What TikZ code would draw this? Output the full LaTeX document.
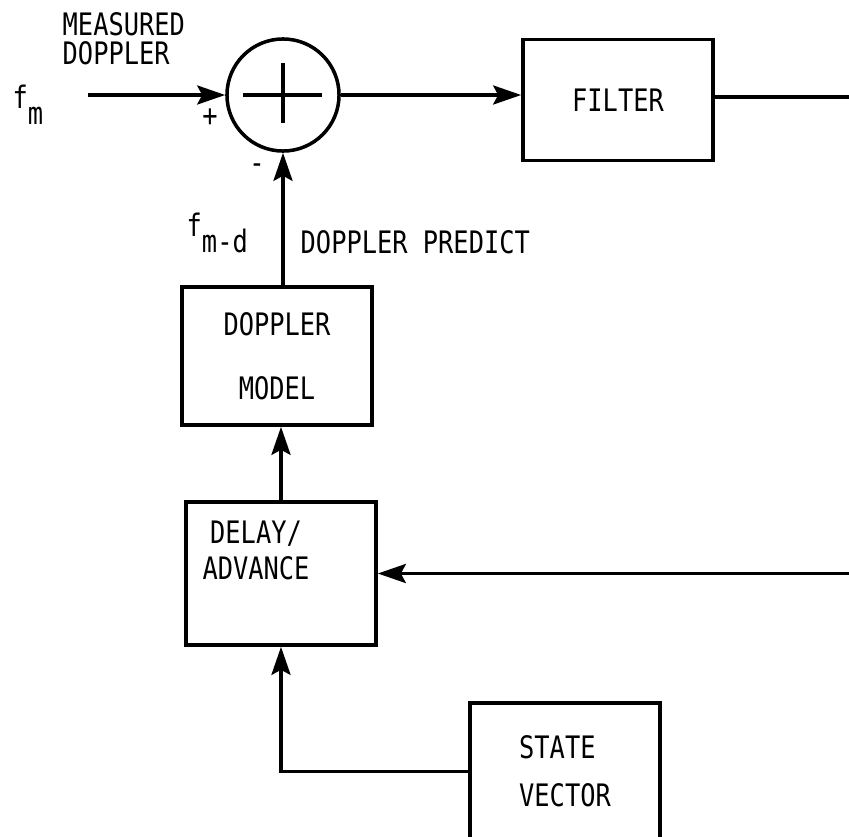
\documentclass[tikz,border=0pt]{standalone}
\usepackage{fontspec}
\setmonofont[FakeStretch=0.82]{DejaVu Sans Mono}
\usepackage{tikz}
\usetikzlibrary{arrows.meta}

\begin{document}
\begin{tikzpicture}[x=0.01cm,y=-0.01cm,
  lbl/.style={font=\ttfamily\fontsize{8.8}{10.2}\selectfont,inner sep=0pt},
  blk/.style={lbl,draw,line width=1pt,minimum width=1.9cm},
  sig/.style={line width=1pt,-{Stealth[length=2.8mm,width=1.9mm,inset=0.5mm]}}]
\useasboundingbox (0,0) rectangle (849,836);
\clip (0,0) rectangle (849,836);
% summing junction
\node[draw,line width=1pt,circle,minimum size=1.12cm,inner sep=0pt] (sum) at (283,95) {};
\draw [line width=1pt] (243,95)--(322,95);
\draw [line width=1pt] (283,63)--(283,123);
\node[blk,minimum height=1.21cm] (filter) at (618,100) {FILTER};
\node[blk,minimum height=1.38cm,align=center] (model) at (277,356) {DOPPLER\\[8pt]MODEL};
\node[blk,minimum height=1.43cm] (delay) at (281,573.5) {};
\node[lbl,align=center] (delaytxt) at (256,550) {DELAY/\\ADVANCE};
\node[blk,minimum height=1.37cm,align=left] (state) at (565,771.5) {STATE\\[3.4pt]VECTOR};
\coordinate (fmin) at (88,95);
\coordinate (out) at (849,97);
\coordinate (fb) at (849,573.5);
\draw [sig] (fmin)--(sum.west);
\draw [sig] (sum.east)--(sum.east -| filter.west);
\draw [line width=1pt] (filter.east |- out)--(out);
\draw [sig] (model.north -| sum.south)--(sum.south);
\draw [sig] (delay.north)--(delay.north |- model.south);
\draw [sig] (fb)--(delay.east);
\draw [sig] (state.west) -| (delay.south);
\node[lbl,anchor=north west,align=left,font=\ttfamily\fontsize{8.8}{8.3}\selectfont] (meas) at (62,12) {MEASURED\\DOPPLER};
\node[lbl,anchor=base west] (fm) at (12,108) {f\raisebox{-4.8pt}{m}};
\node[lbl,anchor=base west] (fmd) at (186,236) {f\raisebox{-4.8pt}{m-d}};
\node[lbl,anchor=base west] (pred) at (300,253) {DOPPLER PREDICT};
\node[lbl] (plus) at (210,118) {+};
\node[lbl] (minus) at (257,169) {-};
%\node[lbl] at (565,860) {};
\end{tikzpicture}
\end{document}
